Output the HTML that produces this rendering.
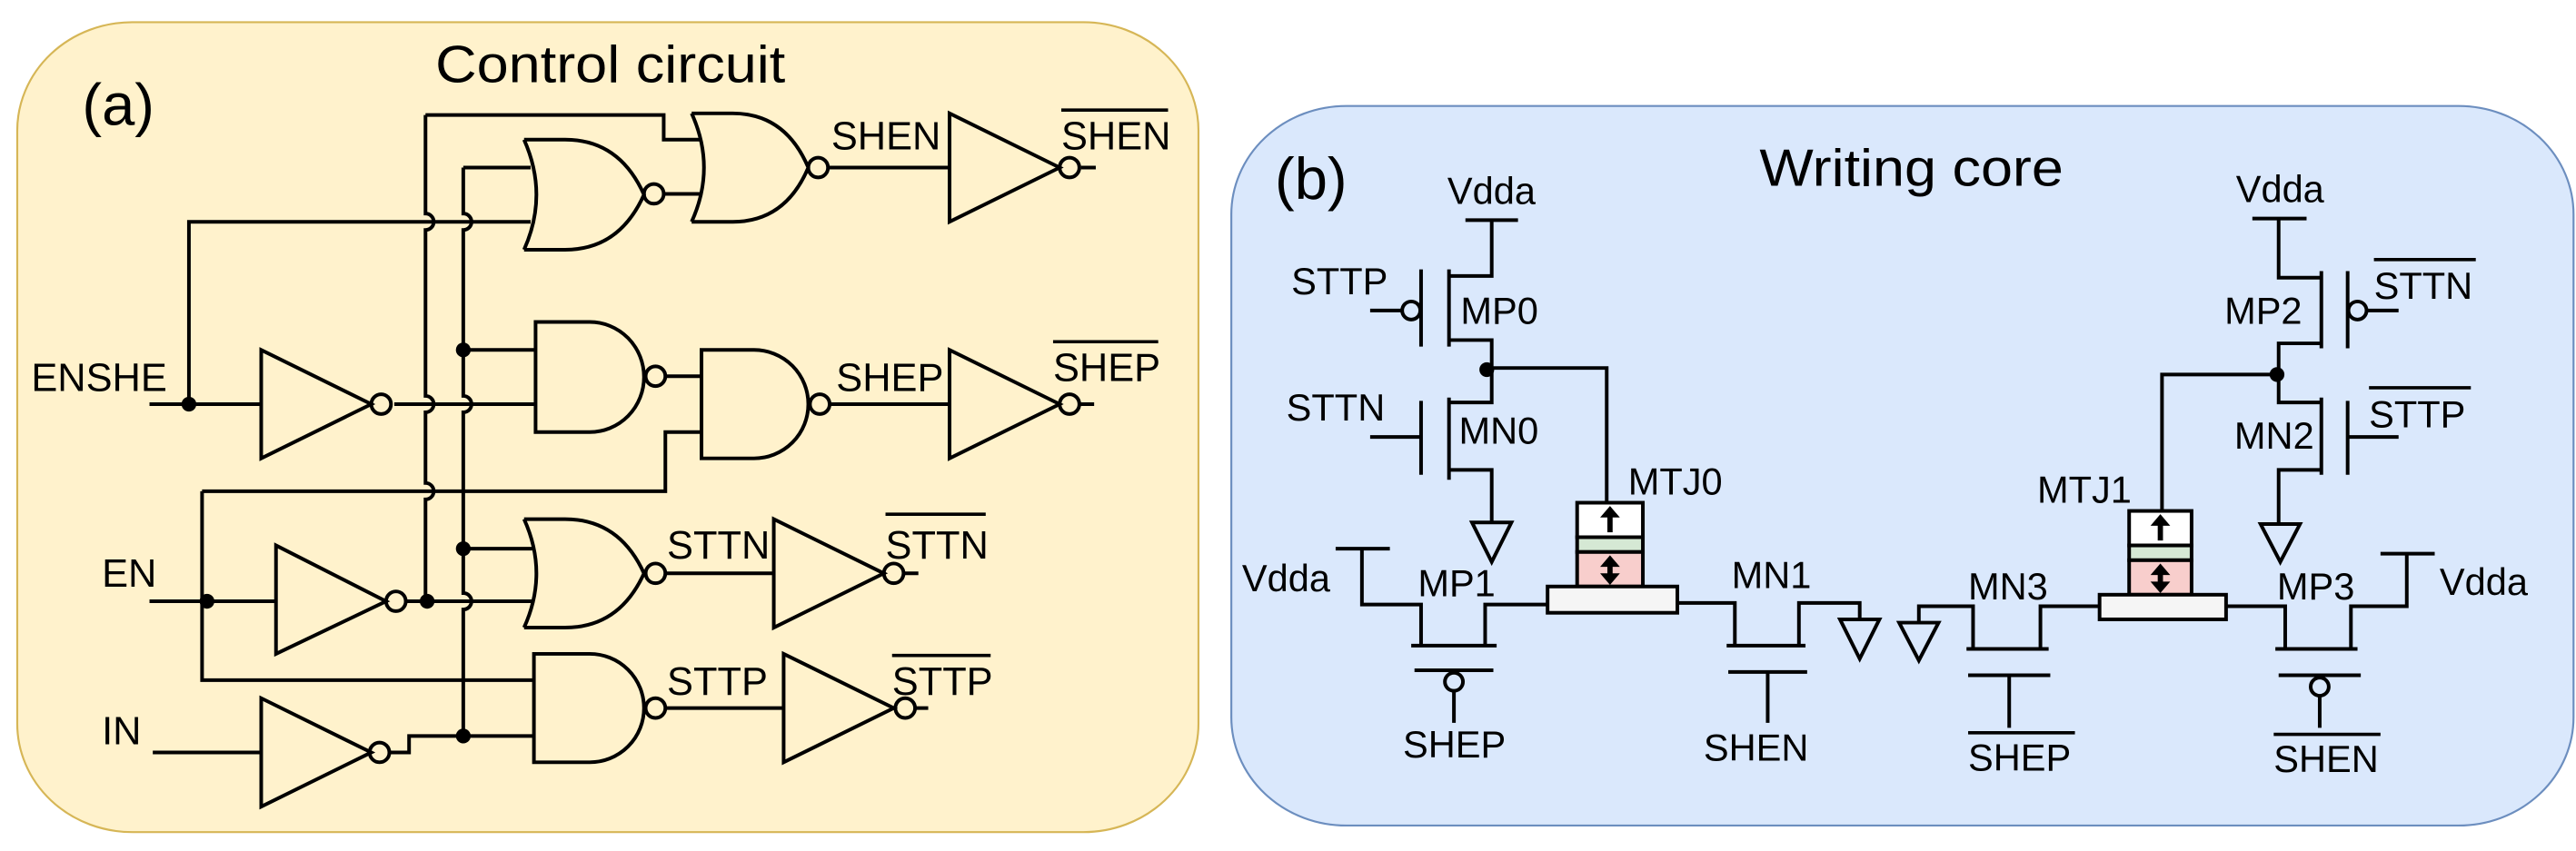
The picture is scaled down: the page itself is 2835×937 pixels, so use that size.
<!DOCTYPE html>
<html><head><meta charset="utf-8"><style>
html,body{margin:0;padding:0;background:#fff;}
svg{display:block;}
text{font-family:"Liberation Sans",Arial,sans-serif;fill:#000;}
</style></head><body>
<svg width="2835" height="937" viewBox="0 0 1568 518" preserveAspectRatio="none" xmlns="http://www.w3.org/2000/svg">
<rect x="10.5" y="13.5" width="719" height="493" rx="70" ry="66" fill="#fff2cc" stroke="#d6b656" stroke-width="1.2"/>
<rect x="749.5" y="64.5" width="817" height="438" rx="70" ry="66" fill="#dae8fc" stroke="#6c8ebf" stroke-width="1.2"/>
<text x="50" y="76" font-size="36">(a)</text>
<text x="265" y="50" font-size="32" textLength="213" lengthAdjust="spacingAndGlyphs">Control circuit</text>
<text x="776" y="121" font-size="36">(b)</text>
<text x="1071" y="113" font-size="32" textLength="185" lengthAdjust="spacingAndGlyphs">Writing core</text>

<g fill="none" stroke="#000" stroke-width="2.2">
<path d="M259,70 V130 A5 5 0 0 1 259,140 V241 A5 5 0 0 1 259,251 V294 A5 5 0 0 1 259,304 V366"/>
<path d="M282,102 V130 A5 5 0 0 1 282,140 V241 A5 5 0 0 1 282,251 V361 A5 5 0 0 1 282,371 V448"/>
<path d="M259,70 H404 V85 H426"/>
<path d="M282,102 H323"/>
<path d="M91,246 H159 M115,246 V135 H323"/>
<path d="M240,246 H326"/>
<path d="M404,118 H426"/>
<path d="M282,213 H326"/>
<path d="M405,229 H427"/>
<path d="M123,299 V414 H325 M123,299 H405 V263 H427"/>
<path d="M91,366 H168 M246,366 H324"/>
<path d="M282,334 H324"/>
<path d="M93,458 H159 M237,458 H249 V448 H325"/>
<path d="M504,102 H578 M504,246 H578 M405,349 H471 M405,431 H477"/>
<path d="M658,102 H667 M657,246 H666 M550,349 H559 M557,431 H565"/>
<path d="M319,85 Q334,118.5 319,152 M319,85 H344 Q377,85 392,118.5 Q377,152 344,152 H319"/>
<path d="M421,69 Q436,102 421,135 M421,69 H446 Q478,69 492,102 Q478,135 446,135 H421"/>
<path d="M319,316 Q334,349 319,382 M319,316 H344 Q377,316 392,349 Q377,382 344,382 H319"/>
<path d="M326,196 H359 A33 33.5 0 0 1 359,263 H326 Z"/>
<path d="M427,213 H459 A33 33 0 0 1 459,279 H427 Z"/>
<path d="M325,398 H359 A33 33 0 0 1 359,464 H325 Z"/>
<polygon points="578,69 578,135 645,102"/>
<polygon points="578,213 578,279 645,246"/>
<polygon points="471,316 471,382 538,349"/>
<polygon points="477,398 477,464 544,431"/>
<polygon points="159,213 159,279 226,246"/>
<polygon points="168,332 168,398 235,366"/>
<polygon points="159,425 159,491 226,458"/>
<circle cx="398" cy="118" r="6"/><circle cx="498" cy="102" r="6"/>
<circle cx="399" cy="229" r="6"/><circle cx="499" cy="246" r="6"/>
<circle cx="399" cy="349" r="6"/><circle cx="399" cy="431" r="6"/>
<circle cx="651" cy="102" r="6"/><circle cx="651" cy="246" r="6"/>
<circle cx="544" cy="349" r="6"/><circle cx="551" cy="431" r="6"/>
<circle cx="232" cy="246" r="6"/><circle cx="241" cy="366" r="6"/><circle cx="231" cy="458" r="6"/>
</g>
<g fill="#000">
<circle cx="115" cy="246" r="4.5"/><circle cx="282" cy="213" r="4.5"/><circle cx="126" cy="366" r="4.5"/>
<circle cx="260" cy="366" r="4.5"/><circle cx="282" cy="334" r="4.5"/><circle cx="282" cy="448" r="4.5"/>
<circle cx="905" cy="225" r="4.5"/><circle cx="1386" cy="228" r="4.5"/>
</g>
<g font-size="24">
<text x="506" y="91">SHEN</text>
<text x="646" y="91">SHEN</text>
<text x="509" y="238">SHEP</text>
<text x="641" y="232">SHEP</text>
<text x="406" y="340">STTN</text>
<text x="539" y="340">STTN</text>
<text x="406" y="423">STTP</text>
<text x="543" y="423">STTP</text>
<text x="19" y="238">ENSHE</text>
<text x="62" y="357">EN</text>
<text x="62" y="453">IN</text>
</g>
<g stroke="#000" stroke-width="2">
<line x1="646" y1="67" x2="711" y2="67"/><line x1="641" y1="208" x2="705" y2="208"/>
<line x1="539" y1="313" x2="600" y2="313"/><line x1="543" y1="399" x2="603" y2="399"/>
<line x1="1445" y1="158" x2="1507" y2="158"/><line x1="1442" y1="236" x2="1504" y2="236"/>
<line x1="1198" y1="446" x2="1263" y2="446"/><line x1="1384" y1="447" x2="1449" y2="447"/>
</g>

<g fill="none" stroke="#000" stroke-width="2.2">
<path d="M892,134 H924 M908,134 V168 H882 M882,164 V211 M865,164 V211 M834,189 H853"/>
<path d="M882,207 H908 V245 H882 M882,242 V292 M865,244 V289 M834,266 H865 M882,286 H908 V318"/>
<polygon points="896,318 920,318 908,342"/>
<path d="M905,224 H978 V306"/>
<circle cx="859" cy="189" r="5.5"/>
<path d="M813,334 H846 M829,334 V368 H865 V393 M859,393 H911 M904,393 V368 H942 M861,408 H909 M885,421 V440"/>
<circle cx="885" cy="415" r="5.5"/>
<path d="M1021,367 H1056 V393 M1051,393 H1099 M1095,393 V367 H1132 V377 M1052,409 H1100 M1076,409 V440"/>
<polygon points="1120,377 1144,377 1132,401"/>
<polygon points="1156,379 1180,379 1168,402"/>
<path d="M1168,379 V369 H1201 V395 M1197,395 H1247 M1242,395 V369 H1278 M1198,411 H1248 M1223,411 V443"/>
<path d="M1355,369 H1391 V395 M1385,395 H1435 M1431,395 V369 H1465 V337 M1449,337 H1482 M1387,411 H1437 M1412,424 V443"/>
<circle cx="1412" cy="418" r="5.5"/>
<path d="M1371,133 H1404 M1387,133 V169 H1413 M1413,165 V212 M1429,165 V212 M1441,189 H1460"/>
<path d="M1413,209 H1387 V245 H1413 M1413,242 V289 M1429,244 V289 M1429,266 H1460 M1413,286 H1387 V319"/>
<polygon points="1376,319 1400,319 1388,342"/>
<circle cx="1435" cy="189" r="5.5"/>
<path d="M1386,228 H1316 V311"/>
</g>
<g stroke="#000" stroke-width="2.2">
<rect x="960" y="306" width="40" height="21" fill="#fff"/>
<rect x="960" y="327" width="40" height="9" fill="#d5e8d4"/>
<rect x="960" y="336" width="40" height="21" fill="#f8cecc"/>
<rect x="942" y="357" width="79" height="16" fill="#f5f5f5"/>
<rect x="1296" y="311" width="38" height="21" fill="#fff"/>
<rect x="1296" y="332" width="38" height="9" fill="#d5e8d4"/>
<rect x="1296" y="341" width="38" height="21" fill="#f8cecc"/>
<rect x="1278" y="362" width="77" height="15" fill="#f5f5f5"/>
</g>
<g stroke="#000" stroke-width="3.2">
<line x1="980" y1="313" x2="980" y2="324"/><line x1="980" y1="343" x2="980" y2="351"/>
<line x1="1315" y1="318" x2="1315" y2="329"/><line x1="1315" y1="348" x2="1315" y2="356"/>
</g>
<g fill="#000">
<polygon points="974,315 986,315 980,308"/>
<polygon points="974,345 986,345 980,338"/><polygon points="974,349 986,349 980,356"/>
<polygon points="1309,320 1321,320 1315,313"/>
<polygon points="1309,350 1321,350 1315,343"/><polygon points="1309,354 1321,354 1315,361"/>
</g>
<g font-size="23">
<text x="881" y="124">Vdda</text>
<text x="786" y="179">STTP</text>
<text x="889" y="197">MP0</text>
<text x="783" y="256">STTN</text>
<text x="888" y="270">MN0</text>
<text x="991" y="301">MTJ0</text>
<text x="756" y="360">Vdda</text>
<text x="863" y="363">MP1</text>
<text x="854" y="461">SHEP</text>
<text x="1054" y="358">MN1</text>
<text x="1037" y="463">SHEN</text>
<text x="1198" y="365">MN3</text>
<text x="1198" y="469">SHEP</text>
<text x="1240" y="306">MTJ1</text>
<text x="1361" y="123">Vdda</text>
<text x="1354" y="197">MP2</text>
<text x="1445" y="182">STTN</text>
<text x="1360" y="273">MN2</text>
<text x="1442" y="260">STTP</text>
<text x="1386" y="365">MP3</text>
<text x="1485" y="362">Vdda</text>
<text x="1384" y="470">SHEN</text>
</g>
</svg>
</body></html>
